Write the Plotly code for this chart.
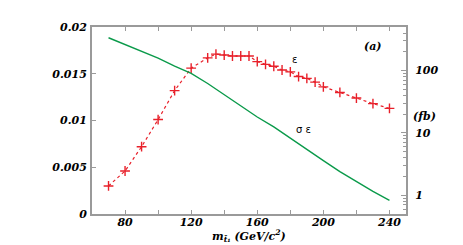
import plotly.graph_objects as go

# ---- data ----
mass_eff = [70, 80, 90, 100, 110, 120, 130, 135, 140, 145, 150, 155, 160, 165, 170,
            175, 180, 185, 190, 195, 200, 210, 220, 230, 240]
eff = [0.0030, 0.0046, 0.0072, 0.0101, 0.0132, 0.0156, 0.0167, 0.0171, 0.0170, 0.0169,
       0.0169, 0.0169, 0.0163, 0.0160, 0.0158, 0.0154, 0.0152, 0.0147, 0.0145, 0.0141,
       0.0136, 0.0130, 0.0124, 0.0118, 0.0113]

mass_sig = [70, 80, 90, 100, 110, 120, 130, 140, 150, 160, 170, 180, 190, 200, 210, 220, 230, 240]
sig_eff = [336, 262, 201, 158, 118, 90, 62, 41, 27, 18, 12.5, 8.2, 5.5, 3.6, 2.4, 1.65, 1.15, 0.83]

x_ticks = [80, 120, 160, 200, 240]
y_ticks = [0, 0.005, 0.01, 0.015, 0.02]
y_tick_text = ["0", "0.005", "0.01", "0.015", "0.02"]
y2_ticks = [1, 10, 100]

SERIF = "DejaVu Serif"
AXC = "#9a9a9a"

fig = go.Figure()
fig.add_trace(go.Scatter(
    x=mass_sig, y=sig_eff, mode="lines", yaxis="y2",
    line=dict(color="#0a9a4a", width=1.4), showlegend=False))
fig.add_trace(go.Scatter(
    x=mass_eff, y=eff, mode="lines+markers",
    line=dict(color="#e8202a", width=1.2, dash="dot"),
    marker=dict(symbol="cross-thin", size=7, line=dict(color="#e8202a", width=1.4)),
    showlegend=False))

tickfont = dict(family=SERIF, size=11, color="black")

fig.update_layout(
    width=463, height=245,
    margin=dict(l=84, r=65, t=19, b=39),
    paper_bgcolor="white", plot_bgcolor="white",
    font=dict(family=SERIF, size=11, color="black"),
    xaxis=dict(
        range=[60, 250], tickvals=x_ticks,
        ticktext=[f"<b><i>{v}</i></b>" for v in x_ticks],
        ticks="inside", ticklen=4, tickcolor=AXC, tickwidth=1,
        minor=dict(dtick=20, tick0=0, ticks="inside", ticklen=4, tickcolor=AXC),
        showline=True, linecolor=AXC, linewidth=2, mirror="allticks",
        showgrid=False, zeroline=False, tickfont=tickfont, automargin=False,
        ticklabelstandoff=-3,
    ),
    yaxis=dict(
        range=[0, 0.02], tickvals=y_ticks,
        ticktext=[f"<b><i>{t}</i></b>" for t in y_tick_text],
        ticks="inside", ticklen=4, tickcolor=AXC,
        showline=True, linecolor=AXC, linewidth=2, mirror=False,
        showgrid=False, zeroline=False, tickfont=tickfont, ticklabelstandoff=1,
        automargin=False,
    ),
    yaxis2=dict(
        type="log", range=[-0.30103, 2.69897], overlaying="y", side="right",
        tickvals=y2_ticks, ticktext=[f"<b><i>{t}</i></b>" for t in y2_ticks],
        ticks="inside", ticklen=5, tickcolor=AXC,
        minor=dict(ticks="inside", ticklen=3, tickcolor=AXC, dtick="D1"),
        showline=True, linecolor=AXC, linewidth=2,
        showgrid=False, zeroline=False, tickfont=tickfont, ticklabelstandoff=5,
        automargin=False,
    ),
)

fig.add_annotation(x=0.5, y=-0.118, xref="paper", yref="paper", yanchor="middle",
                   text="<b><i>m<sub>t\u0304\u2081</sub> (GeV/c<sup>2</sup>)</i></b>",
                   showarrow=False, font=dict(family=SERIF, size=11, color="black"))
fig.add_annotation(x=182.3, y=0.0165, xref="x", yref="y", text="ε", showarrow=False,
                   font=dict(family="DejaVu Sans", size=10, color="black"))
fig.add_annotation(x=188, y=0.0090, xref="x", yref="y", text="σ ε", showarrow=False,
                   font=dict(family="DejaVu Sans", size=10, color="black"))
fig.add_annotation(x=229.8, y=0.0179, xref="x", yref="y", text="<b><i>(a)</i></b>",
                   showarrow=False, font=dict(family=SERIF, size=11, color="black"))
fig.add_annotation(x=1.103, y=0.522, xref="paper", yref="paper", text="<b><i>(fb)</i></b>",
                   showarrow=False, font=dict(family=SERIF, size=11, color="black"))

fig.write_html("out.html")
